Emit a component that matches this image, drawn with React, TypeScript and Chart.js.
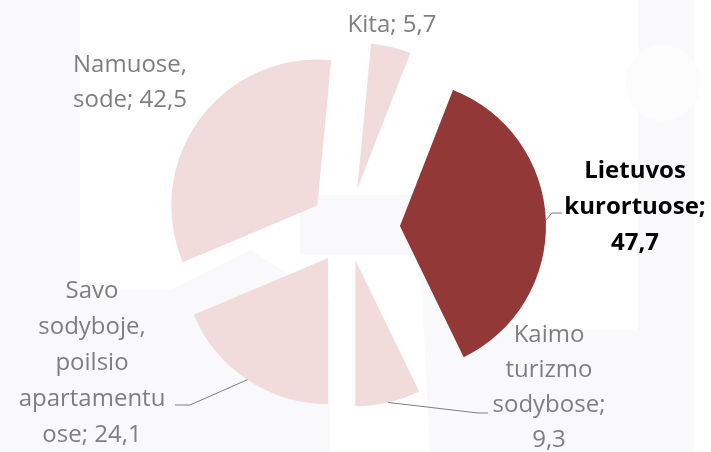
import { useEffect, useRef } from "react";
import { Chart, registerables } from "chart.js";

Chart.register(...registerables);

// ---- data ----
const categories = [
  "Lietuvos kurortuose",
  "Kaimo turizmo sodybose",
  "Savo sodyboje, poilsio apartamentuose",
  "Namuose, sode",
  "Kita",
];
const values = [47.7, 9.3, 24.1, 42.5, 5.7];
// label text broken into lines as in the original; {v} is replaced by the value
const labelLines = [
  ["Lietuvos", "kurortuose;", "{v}"],
  ["Kaimo", "turizmo", "sodybose;", "{v}"],
  ["Savo", "sodyboje,", "poilsio", "apartamentu", "ose; {v}"],
  ["Namuose,", "sode; {v}"],
  ["Kita; {v}"],
];

// ---- style ----
const colors = ["#923836", "#F2DCDB", "#F2DCDB", "#F2DCDB", "#F2DCDB"];
const explode = [52, 33, 36, 38, 40];
const FIRST_SLICE_ANGLE = 21.3;
const RADIUS = 146;
const GRAY = "#7F7F7F";
const FONT = '"Open Sans", "DejaVu Sans", sans-serif';
const WM = "#F9F9FB";

type LabelLayout = {
  x: number;
  y: number;
  lh: number;
  bold?: boolean;
  color: string;
  leader?: [number, number][];
};
const labelLayout: LabelLayout[] = [
  { x: 635, y: 178, lh: 36, bold: true, color: "#000000", leader: [[552, 213], [562, 213]] },
  { x: 549, y: 342, lh: 35, color: GRAY, leader: [[478, 413], [488, 413]] },
  { x: 92, y: 298, lh: 36, color: GRAY, leader: [[190, 405], [175, 405]] },
  { x: 130, y: 72, lh: 35, color: GRAY },
  { x: 392, y: 32, lh: 35, color: GRAY },
];

const fmt = (v: number) => v.toFixed(1).replace(".", ",");

const watermarkPlugin = {
  id: "watermark",
  beforeDraw(chart: any) {
    const ctx = chart.ctx as CanvasRenderingContext2D;
    ctx.save();
    ctx.fillStyle = "#FFFFFF";
    ctx.fillRect(0, 0, 711, 452);
    ctx.fillStyle = WM;
    // left strip
    ctx.fillRect(0, 0, 80, 452);
    // lower-left area
    ctx.beginPath();
    ctx.moveTo(80, 290);
    ctx.lineTo(170, 290);
    ctx.lineTo(250, 250);
    ctx.lineTo(330, 300);
    ctx.lineTo(330, 452);
    ctx.lineTo(80, 452);
    ctx.closePath();
    ctx.fill();
    // band behind the centre
    ctx.fillRect(300, 195, 140, 60);
    ctx.beginPath();
    ctx.moveTo(420, 255);
    ctx.lineTo(520, 330);
    ctx.lineTo(640, 330);
    ctx.lineTo(640, 452);
    ctx.lineTo(430, 452);
    ctx.closePath();
    ctx.fill();
    // right strip with a ring
    ctx.fillRect(638, 0, 56, 452);
    ctx.fillStyle = "#FCFCFD";
    ctx.beginPath();
    ctx.arc(663, 83, 38, 0, Math.PI * 2);
    ctx.fill();
    ctx.restore();
  },
};

const explodePlugin = {
  id: "explode",
  afterDatasetsUpdate(chart: any) {
    const meta = chart.getDatasetMeta(0);
    meta.data.forEach((arc: any, i: number) => {
      const mid = (arc.startAngle + arc.endAngle) / 2;
      arc.x += explode[i] * Math.cos(mid);
      arc.y += explode[i] * Math.sin(mid);
    });
  },
};

const labelPlugin = {
  id: "sliceLabels",
  afterDraw(chart: any) {
    const ctx = chart.ctx as CanvasRenderingContext2D;
    const meta = chart.getDatasetMeta(0);
    ctx.save();
    meta.data.forEach((arc: any, i: number) => {
      const L = labelLayout[i];
      const mid = (arc.startAngle + arc.endAngle) / 2;
      if (L.leader) {
        ctx.strokeStyle = "#7F7F7F";
        ctx.lineWidth = 1;
        ctx.beginPath();
        ctx.moveTo(arc.x + arc.outerRadius * Math.cos(mid), arc.y + arc.outerRadius * Math.sin(mid));
        L.leader.forEach(([px, py]) => ctx.lineTo(px, py));
        ctx.stroke();
      }
      ctx.fillStyle = L.color;
      ctx.font = `${L.bold ? "bold " : ""}24px ${FONT}`;
      ctx.textAlign = "center";
      ctx.textBaseline = "alphabetic";
      labelLines[i].forEach((line, j) => {
        ctx.fillText(line.replace("{v}", fmt(values[i])), L.x, L.y + j * L.lh);
      });
    });
    ctx.restore();
  },
};

export default function App() {
  const ref = useRef<HTMLCanvasElement>(null);
  useEffect(() => {
    let chart: Chart | null = null;
    let cancelled = false;
    const make = () => {
      if (cancelled || !ref.current) return;
      chart = new Chart(ref.current, {
        type: "pie",
        data: {
          labels: categories,
          datasets: [
            {
              data: values,
              backgroundColor: colors,
              borderWidth: 0,
              offset: 0,
            },
          ],
        },
        options: {
          animation: false,
          responsive: false,
          events: [],
          rotation: FIRST_SLICE_ANGLE,
          radius: RADIUS,
          layout: { padding: { left: 0, right: 15, top: 4, bottom: 0 } },
          plugins: { legend: { display: false }, tooltip: { enabled: false } },
        } as any,
        plugins: [watermarkPlugin, explodePlugin, labelPlugin],
      });
    };
    Promise.all([
      document.fonts.load(`24px "Open Sans"`),
      document.fonts.load(`bold 24px "Open Sans"`),
    ])
      .catch(() => {})
      .then(make);
    return () => {
      cancelled = true;
      if (chart) chart.destroy();
    };
  }, []);
  return (
    <div style={{ position: "fixed", left: 0, top: 0, width: 711, height: 452, background: "#fff" }}>
      <canvas ref={ref} width={711} height={452} />
    </div>
  );
}
